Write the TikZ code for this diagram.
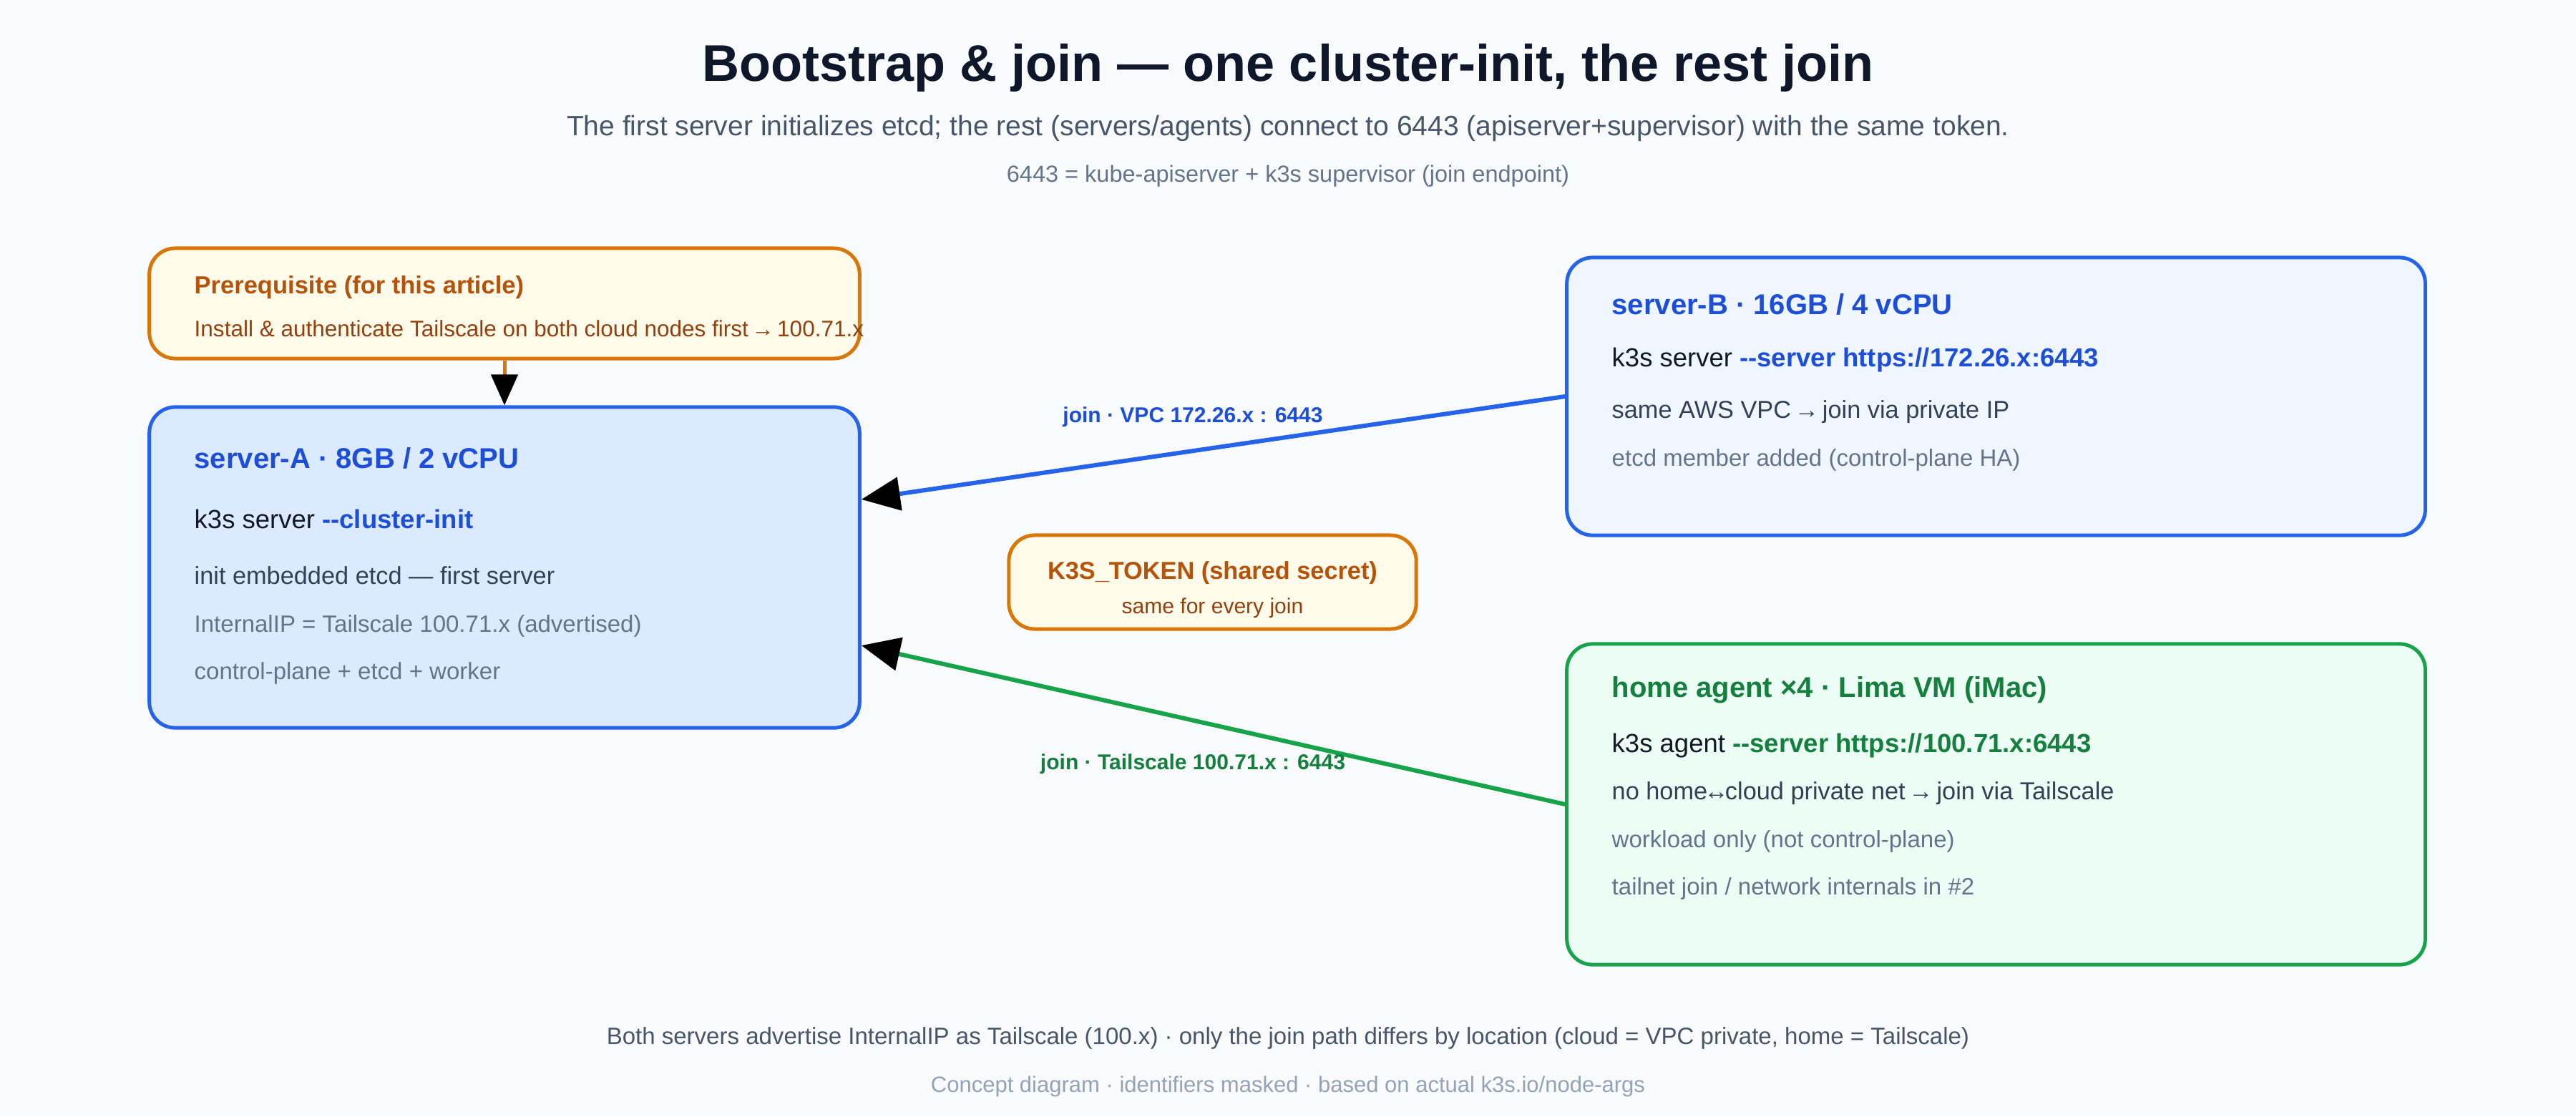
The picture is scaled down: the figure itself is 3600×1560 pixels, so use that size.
\documentclass[tikz,border=0pt]{standalone}
\usepackage{fontspec}
\setmainfont{Liberation Sans}[Ligatures=TeXOff]
\usetikzlibrary{arrows.meta}
\definecolor{bg}{HTML}{F8FAFC}
\definecolor{ttl}{HTML}{0F172A}
\definecolor{sub}{HTML}{475569}
\definecolor{mut}{HTML}{64748B}
\definecolor{faint}{HTML}{94A3B8}
\definecolor{bluE}{HTML}{2563EB}
\definecolor{blueH}{HTML}{1D4ED8}
\definecolor{blueFa}{HTML}{DBEAFE}
\definecolor{blueFb}{HTML}{EFF6FF}
\definecolor{grnE}{HTML}{16A34A}
\definecolor{grnH}{HTML}{15803D}
\definecolor{grnF}{HTML}{ECFDF5}
\definecolor{orgE}{HTML}{D97706}
\definecolor{orgH}{HTML}{B45309}
\definecolor{orgT}{HTML}{92400E}
\definecolor{orgF}{HTML}{FFFBEB}
\definecolor{dark}{HTML}{111827}
\definecolor{line3}{HTML}{334155}
\newcommand\fpx[1]{\fontsize{\fpxcalc{#1}}{\fpxcalc{#1}}\selectfont}
\newcommand\fpxcalc[1]{\dimexpr #1\dimexpr 0.28453pt\relax\relax}
\newcommand\myra{\makebox[0.72em]{→}}
\newcommand\mylra{\makebox[0.72em]{↔}}
\tikzset{
  box/.style={draw, line width=0.05cm, rounded corners=0.36cm, inner sep=0},
  txt/.style={anchor=west, inner sep=0},
  ctr/.style={anchor=center, inner sep=0},
  joinarrow/.style={line width=0.06cm, -{Triangle[length=0.54cm, width=0.46cm, color=black]}},
}
\begin{document}
\begin{tikzpicture}[x=0.01cm, y=-0.01cm]
\fill[bg] (0,0) rectangle (3600,1560);
\useasboundingbox (0,0) rectangle (3600,1560);

% title
\node[ctr, text=ttl] (title) at (1800,95) {\fpx{72}\bfseries Bootstrap \& join — one cluster-init, the rest join};
\node[ctr, text=sub] (subt) at (1800,179) {\fpx{39}The first server initializes etcd; the rest (servers/agents) connect to 6443 (apiserver+supervisor) with the same token.};
\node[ctr, text=mut] (note) at (1800,246) {\fpx{32.5}6443 = kube-apiserver + k3s supervisor (join endpoint)};

% boxes
\node[box, draw=orgE, fill=orgF, minimum width=9.92cm, minimum height=1.54cm] (pre) at (705,424) {};
\node[box, draw=bluE, fill=blueFa, minimum width=9.92cm, minimum height=4.48cm] (A) at (705,793) {};
\node[box, draw=bluE, fill=blueFb, minimum width=11.99cm, minimum height=3.88cm] (B) at (2789.5,554) {};
\node[box, draw=grnE, fill=grnF, minimum width=11.99cm, minimum height=4.48cm] (H) at (2789.5,1124) {};
\node[box, draw=orgE, fill=orgF, minimum width=5.69cm, minimum height=1.31cm] (tok) at (1694.5,813.5) {};

% prerequisite text
\node[txt, text=orgH] (pre1) at (271,402) {\fpx{34.5}\bfseries Prerequisite (for this article)};
\node[txt, text=orgT] (pre2) at (271,459) {\fpx{31.5}Install \& authenticate Tailscale on both cloud nodes first \myra{} 100.71.x};

% server-A text
\node[txt, text=blueH] (a1) at (271,640) {\fpx{40}\bfseries server-A · 8GB / 2 vCPU};
\node[txt, text=dark] (a2) at (271,725) {\fpx{36.5}k3s server \textcolor{blueH}{\bfseries --cluster-init}};
\node[txt, text=line3] (a3) at (271,804) {\fpx{34.3}init embedded etcd — first server};
\node[txt, text=mut] (a4) at (271,875) {\fpx{33}InternalIP = Tailscale 100.71.x (advertised)};
\node[txt, text=mut] (a5) at (271,941) {\fpx{33}control-plane + etcd + worker};

% server-B text
\node[txt, text=blueH] (b1) at (2252,425) {\fpx{40}\bfseries server-B · 16GB / 4 vCPU};
\node[txt, text=dark] (b2) at (2252,503) {\fpx{36.5}k3s server \textcolor{blueH}{\bfseries --server https://172.26.x:6443}};
\node[txt, text=line3] (b3) at (2252,576) {\fpx{34.3}same AWS VPC \myra{} join via private IP};
\node[txt, text=mut] (b4) at (2252,643) {\fpx{33}etcd member added (control-plane HA)};

% home agent text
\node[txt, text=grnH] (h1) at (2252,964) {\fpx{40}\bfseries home agent ×4 · Lima VM (iMac)};
\node[txt, text=dark] (h2) at (2252,1042) {\fpx{36.5}k3s agent \textcolor{grnH}{\bfseries --server https://100.71.x:6443}};
\node[txt, text=line3] (h3) at (2252,1109) {\fpx{34.3}no home\mylra{}cloud private net \myra{} join via Tailscale};
\node[txt, text=mut] (h4) at (2252,1176) {\fpx{33}workload only (not control-plane)};
\node[txt, text=mut] (h5) at (2252,1242) {\fpx{33}tailnet join / network internals in \#2};

% token text
\node[ctr, text=orgH] (tok1) at (1694.5,801) {\fpx{34.3}\bfseries K3S\_TOKEN (shared secret)};
\node[ctr, text=orgT] (tok2) at (1694.5,850) {\fpx{30}same for every join};

% connectors
\draw[orgE, line width=0.05cm, -{Triangle[length=0.43cm, width=0.37cm, color=black]}] (pre.south) -- (A.north);
\coordinate (Ain1) at ([yshift=0.95cm]A.east);
\coordinate (Ain2) at ([yshift=-1.09cm]A.east);
\draw[joinarrow, bluE] (B.west) -- (Ain1);
\draw[joinarrow, grnE] (H.west) -- (Ain2);
\node[ctr, text=blueH] (l1) at (1667,583) {\fpx{30}\bfseries join · VPC 172.26.x : 6443};
\node[ctr, text=grnH] (l2) at (1667,1068) {\fpx{30}\bfseries join · Tailscale 100.71.x : 6443};

% footer
\node[ctr, text=sub] (f1) at (1800,1451) {\fpx{33}Both servers advertise InternalIP as Tailscale (100.x) · only the join path differs by location (cloud = VPC private, home = Tailscale)};
\node[ctr, text=faint] (f2) at (1800,1518) {\fpx{31}Concept diagram · identifiers masked · based on actual k3s.io/node-args};
\end{tikzpicture}
\end{document}
